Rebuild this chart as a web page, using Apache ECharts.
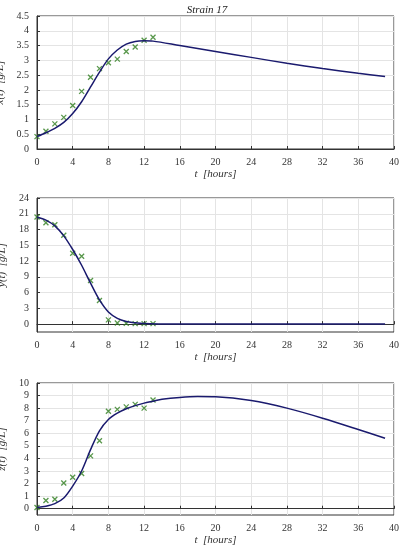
<!DOCTYPE html><html><head><meta charset="utf-8"><script src="https://cdn.jsdelivr.net/npm/echarts@6/dist/echarts.min.js"></script></head><body style="margin:0"><div id="c" style="width:414px;height:550px"></div><script>
const tPts=[0,1,2,3,4,5,6,7,8,9,10,11,12,13];
const xPts=[0.42,0.6,0.85,1.07,1.47,1.95,2.43,2.72,2.92,3.04,3.3,3.45,3.68,3.78];
const yPts=[20.4,19.3,18.9,16.9,13.5,12.9,8.3,4.5,0.8,0.2,0.15,0.1,0.1,0.1];
const zPts=[0.1,0.65,0.75,2.05,2.5,2.8,4.2,5.4,7.75,7.9,8.1,8.3,8.0,8.65];
const tLineX=[0,1,2,3,4,5,6,7,8,9,10,11,12,13,16,20,24,28,32,36,39];
const xLine=[0.42,0.55,0.7,0.9,1.2,1.6,2.1,2.6,3.05,3.35,3.55,3.64,3.66,3.65,3.5,3.3,3.1,2.9,2.72,2.56,2.45];
const tLineY=[0,1,2,3,4,5,6,7,8,9,10,11,12,14,16,39];
const yLine=[20.4,19.8,18.7,16.8,14.2,11.2,7.8,4.6,2.3,1.1,0.5,0.25,0.1,0.03,0,0];
const tLineZ=[0,1,2,3,4,5,6,7,8,9,10,11,12,13,14,16,18,20,24,28,32,36,39];
const zLine=[0.1,0.2,0.4,0.85,1.8,3.0,4.7,6.2,7.1,7.6,7.95,8.2,8.4,8.55,8.7,8.85,8.92,8.9,8.6,8.0,7.2,6.3,5.6];
const xTicks=[0,0.5,1,1.5,2,2.5,3,3.5,4,4.5];
const yTicks=[0,3,6,9,12,15,18,21,24];
const zTicks=[0,1,2,3,4,5,6,7,8,9,10];
const F='Liberation Serif';
const grids=[{top:16,height:133},{top:198,height:134},{top:383,height:132}];
const yCfg=[{min:0,max:4.5,ticks:xTicks,name:'x(t)  [g/L]'},{min:-1.5,max:24,ticks:yTicks,name:'y(t)  [g/L]'},{min:-0.5,max:10,ticks:zTicks,name:'z(t)  [g/L]'}];
const opt={animation:false,title:{text:'Strain 17',left:'center',top:0,textStyle:{fontFamily:F,fontStyle:'italic',fontWeight:'normal',fontSize:11,color:'#222'}},
grid:grids.map(g=>({left:37,right:20,top:g.top,height:g.height,show:true,borderColor:'#333',borderWidth:1,containLabel:false,outerBoundsMode:'none'})),
xAxis:grids.map((g,i)=>({gridIndex:i,type:'value',min:0,max:40,interval:4,name:'t  [hours]',nameLocation:'middle',nameGap:20,nameTextStyle:{fontFamily:F,fontStyle:'italic',fontSize:11,color:'#333'},axisLine:{lineStyle:{color:'#333'}},axisTick:{inside:true,length:3},axisLabel:{fontFamily:F,fontSize:10,color:'#333'},splitLine:{lineStyle:{color:'#e4e4e4'}}})),
yAxis:yCfg.map((c,i)=>({gridIndex:i,type:'value',min:c.min,max:c.max,name:c.name,nameLocation:'middle',nameGap:24,nameTextStyle:{fontFamily:F,fontStyle:'italic',fontSize:11,color:'#333'},axisLine:{show:true,lineStyle:{color:'#333'}},axisTick:{inside:true,length:3,customValues:c.ticks},axisLabel:{fontFamily:F,fontSize:10,color:'#333',customValues:c.ticks},splitLine:{lineStyle:{color:'#e4e4e4'}}})),
series:[]};
const pts=[xPts,yPts,zPts], lines=[[tLineX,xLine],[tLineY,yLine],[tLineZ,zLine]];
for(let i=0;i<3;i++){
opt.series.push({type:'line',xAxisIndex:i,yAxisIndex:i,smooth:0.3,symbol:'none',lineStyle:{color:'#1a1a6e',width:1.5},data:lines[i][0].map((t,k)=>[t,lines[i][1][k]])});
opt.series.push({type:'scatter',xAxisIndex:i,yAxisIndex:i,symbol:'path://M0,0L10,10M10,0L0,10',symbolSize:5,itemStyle:{color:'none',borderColor:'#2e7d1e',borderWidth:1.3},data:tPts.map((t,k)=>[t,pts[i][k]])});
}
echarts.init(document.getElementById('c')).setOption(opt);
</script></body></html>
